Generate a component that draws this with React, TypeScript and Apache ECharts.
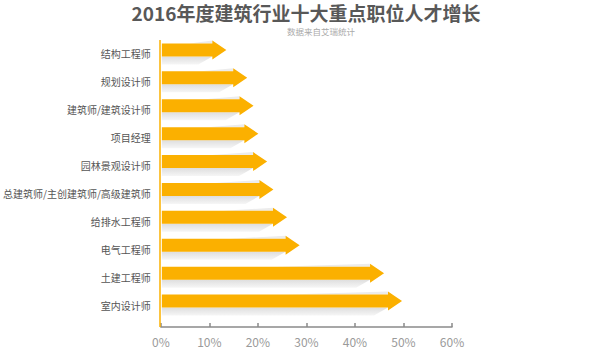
import React, { useEffect, useRef } from "react";
import * as echarts from "echarts";

const titleText = "2016年度建筑行业十大重点职位人才增长";
const subtitleText = "数据来自艾瑞统计";
const categories = [
  "结构工程师",
  "规划设计师",
  "建筑师/建筑设计师",
  "项目经理",
  "园林景观设计师",
  "总建筑师/主创建筑师/高级建筑师",
  "给排水工程师",
  "电气工程师",
  "土建工程师",
  "室内设计师",
];
const growth = [13.5, 17.8, 19.1, 20.1, 21.9, 23.2, 26.0, 28.6, 46.0, 49.7];
const xMin = 0;
const xMax = 60;
const xStep = 10;

const FONT = "'Noto Sans CJK SC', 'Noto Sans', sans-serif";
const ORANGE = "#FBB000";

export default function App() {
  const ref = useRef<HTMLDivElement>(null);
  useEffect(() => {
    if (!ref.current) return;
    const chart = echarts.init(ref.current, null, { renderer: "svg" });
    const renderItem = (params: any, api: any) => {
      const v = api.value(0);
      const idx = api.value(1);
      const tip = api.coord([v, idx]);
      const base = api.coord([0, idx]);
      const cy = tip[1] - 4;
      const head = 14;
      const bh = 6.5;
      const hh = 9.5;
      const hb = tip[0] - head;
      const x0 = base[0] + 1;
      return {
        type: "group",
        children: [
          {
            type: "polygon",
            shape: {
              points: [
                [x0, cy + bh],
                [hb, cy + bh],
                [hb - 14, cy + bh + 8],
                [x0, cy + bh + 8],
              ],
            },
            style: {
              fill: new echarts.graphic.LinearGradient(0, 0, 0, 1, [
                { offset: 0, color: "#dedede" },
                { offset: 1, color: "#f6f6f6" },
              ]),
            },
          },
          {
            type: "polygon",
            shape: {
              points: [
                [x0 + (hb - x0) * 0.55, cy - bh],
                [hb, cy - bh],
                [hb, cy - bh - 3],
              ],
            },
            style: { fill: "#ececec" },
          },
          {
            type: "polygon",
            shape: {
              points: [
                [x0, cy - bh],
                [hb, cy - bh],
                [hb, cy - hh],
                [tip[0], cy],
                [hb, cy + hh],
                [hb, cy + bh],
                [x0, cy + bh],
              ],
            },
            style: { fill: ORANGE },
          },
        ],
      };
    };
    chart.setOption({
      animation: false,
      backgroundColor: "#ffffff",
      textStyle: { fontFamily: FONT },
      title: [
        {
          text: titleText,
          left: 301,
          textAlign: "center",
          top: -2,
          textStyle: { fontSize: 19, fontWeight: "bold", color: "#585858", fontFamily: FONT },
        },
        {
          text: subtitleText,
          left: 316,
          textAlign: "center",
          top: 22,
          textStyle: { fontSize: 8.5, fontWeight: "normal", color: "#aaaaaa", fontFamily: FONT },
        },
      ],
      grid: { left: 160, right: 148, top: 40, bottom: 34, containLabel: false },
      xAxis: {
        type: "value",
        min: xMin,
        max: xMax,
        interval: xStep,
        offset: 8,
        axisLine: { show: true, lineStyle: { color: "#8a8a8a", width: 1.5 } },
        axisTick: { show: true, inside: true, length: 4, lineStyle: { color: "#8a8a8a", width: 1.5 } },
        splitLine: { show: false },
        axisLabel: {
          formatter: "{value}%",
          color: "#9a9a9a",
          fontSize: 12,
          margin: 8,
          fontFamily: FONT,
        },
      },
      yAxis: {
        type: "category",
        data: categories,
        inverse: true,
        axisLine: { show: false },
        axisTick: { show: false },
        axisLabel: { color: "#555555", fontSize: 10, margin: 10, fontFamily: FONT },
      },
      graphic: [
        {
          type: "line",
          shape: { x1: 160, y1: 40, x2: 160, y2: 327 },
          style: { stroke: ORANGE, lineWidth: 1.5 },
          z: 10,
        },
      ],
      series: [
        {
          type: "custom",
          renderItem,
          encode: { x: 0, y: 1 },
          data: growth.map((g, i) => [g, i]),
        },
      ],
    });
    return () => chart.dispose();
  }, []);
  return (
    <div
      ref={ref}
      style={{ position: "fixed", left: 0, top: 0, width: 600, height: 353 }}
    />
  );
}
